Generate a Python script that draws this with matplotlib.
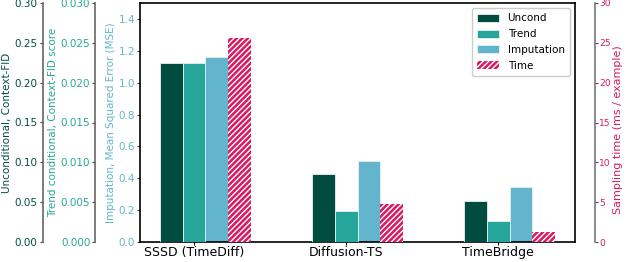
import numpy as np
import matplotlib
matplotlib.use("Agg")
import matplotlib.pyplot as plt

methods = ["SSSD (TimeDiff)", "Diffusion-TS", "TimeBridge"]
uncond_fid = [0.225, 0.0853, 0.0511]
trend_fid = [0.0225, 0.00385, 0.00267]
imputation_mse = [1.161, 0.506, 0.345]
sampling_ms = [25.6, 4.77, 1.26]

c_unc = "#004d40"
c_trend = "#26a69a"
c_imp = "#62b5cc"
c_time = "#d81b60"

plt.rcParams["hatch.linewidth"] = 1.0

fig = plt.figure(figsize=(6.26, 2.62), dpi=100)
ax = fig.add_axes([140 / 626, 1 - 242 / 262, 435 / 626, 239 / 262])
ax_unc = ax.twinx()
ax_trend = ax.twinx()
ax_time = ax.twinx()

x = np.arange(len(methods))
w = 0.15

b1 = ax_unc.bar(x - w, uncond_fid, w, color=c_unc, edgecolor="#e6f2f0", linewidth=0.6, label="Uncond")
b2 = ax_trend.bar(x, trend_fid, w, color=c_trend, edgecolor="#e6f2f0", linewidth=0.6, label="Trend")
b3 = ax.bar(x + w, imputation_mse, w, color=c_imp, edgecolor="#e6f2f0", linewidth=0.6, label="Imputation")
b4 = ax_time.bar(x + 2 * w, sampling_ms, w, color=c_time, edgecolor="white", hatch="//////",
                 linewidth=0, label="Time")

ax.set_ylim(0, 1.5)
ax_unc.set_ylim(0, 0.30)
ax_trend.set_ylim(0, 0.030)
ax_time.set_ylim(0, 30)

ax.set_xticks(x)
ax.set_xticklabels(methods, fontsize=9)
ax.tick_params(axis="x", length=2, pad=1)

# left-side twin axes
for a, pos in [(ax_unc, -0.224), (ax_trend, -0.103)]:
    a.yaxis.tick_left()
    a.yaxis.set_label_position("left")
    a.spines["left"].set_position(("axes", pos))
    a.spines["left"].set_visible(True)
    a.spines["left"].set_color("#666666")
    a.spines["left"].set_linewidth(1.2)
    for s in ["right", "top", "bottom"]:
        a.spines[s].set_visible(False)

ax_time.spines["right"].set_position(("axes", 1.046))
ax_time.spines["right"].set_color("#777777")
ax_time.spines["right"].set_linewidth(1.2)
for s in ["left", "top", "bottom"]:
    ax_time.spines[s].set_visible(False)

for s in ax.spines.values():
    s.set_color("black")
    s.set_linewidth(1.2)

ax.set_yticks(np.arange(0, 1.41, 0.2))
ax_unc.set_yticks(np.arange(0, 0.301, 0.05))
ax_unc.yaxis.set_major_formatter(matplotlib.ticker.FormatStrFormatter("%.2f"))
ax_trend.set_yticks(np.arange(0, 0.0301, 0.005))
ax_trend.yaxis.set_major_formatter(matplotlib.ticker.FormatStrFormatter("%.3f"))
ax_time.set_yticks(np.arange(0, 31, 5))

for a, c in [(ax, c_imp), (ax_unc, c_unc), (ax_trend, c_trend)]:
    a.tick_params(axis="y", labelsize=7.5, labelcolor=c, length=2, pad=1.5, color="#444444")
ax_time.tick_params(axis="y", labelsize=6.6, labelcolor=c_time, length=2, pad=1, color="#444444")

ax_unc.set_ylabel("Unconditional, Context-FID", color=c_unc, fontsize=7.5, labelpad=2)
ax_trend.set_ylabel("Trend conditional, Context-FID score", color=c_trend, fontsize=7.5, labelpad=2)
ax.set_ylabel("Imputation, Mean Squared Error (MSE)", color=c_imp, fontsize=7.5, labelpad=2)
ax_time.set_ylabel("Sampling time (ms / example)", color=c_time, fontsize=8)
ax_time.yaxis.set_label_coords(1.088, 0.469)

ax_time.legend([b1, b2, b3, b4], ["Uncond", "Trend", "Imputation", "Time"],
               loc="upper right", fontsize=7.5, handlelength=2.1, handleheight=0.8,
               labelspacing=0.55, borderpad=0.5, handletextpad=0.8, framealpha=1)

fig.savefig("out.png", dpi=100)
